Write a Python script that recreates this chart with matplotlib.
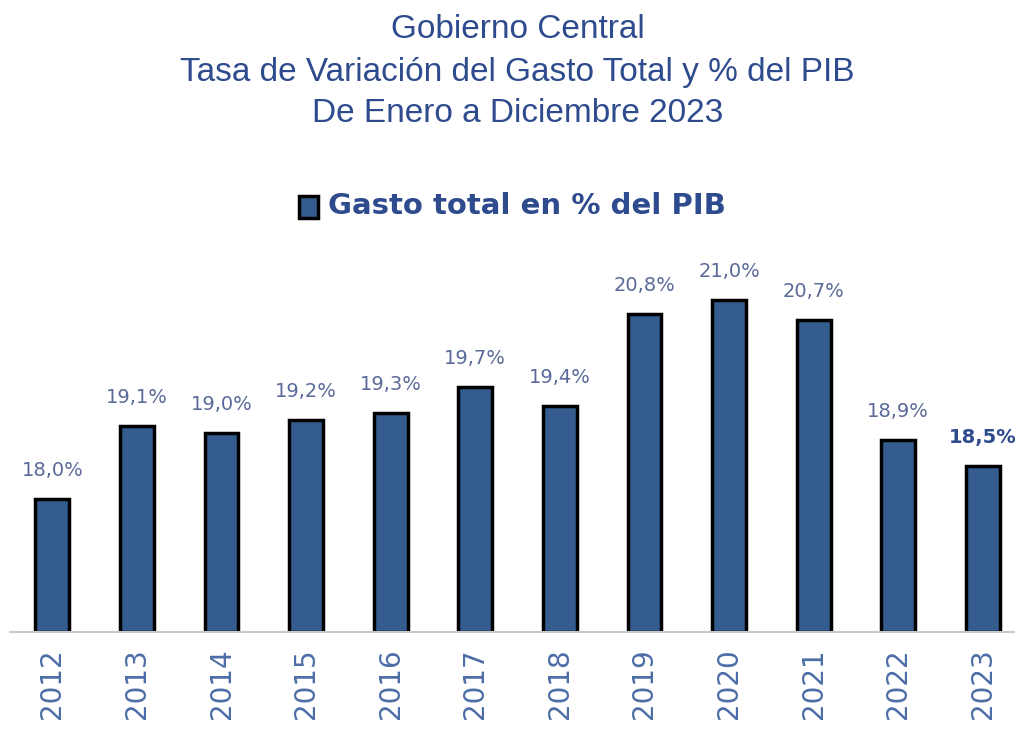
import matplotlib

matplotlib.use("Agg")
import matplotlib.pyplot as plt  # noqa: E402
from matplotlib.patches import Rectangle  # noqa: E402

years = ["2012", "2013", "2014", "2015", "2016", "2017", "2018", "2019", "2020", "2021", "2022", "2023"]
gasto_pib = [18.0, 19.1, 19.0, 19.2, 19.3, 19.7, 19.4, 20.8, 21.0, 20.7, 18.9, 18.5]
labels = ["18,0%", "19,1%", "19,0%", "19,2%", "19,3%", "19,7%", "19,4%", "20,8%", "21,0%", "20,7%", "18,9%", "18,5%"]

TITLE_COLOR = "#2E4B8E"
BAR_COLOR = "#345C8F"
LABEL_COLOR = "#5A6A98"
TICK_COLOR = "#4C6DA6"

fig = plt.figure(figsize=(10.15, 7.36), dpi=100)
ax = fig.add_axes([10 / 1015, 104 / 736, 1015.2 / 1015, 398 / 736])

x = list(range(len(years)))
ax.bar(x, [v - 16 for v in gasto_pib], bottom=16, width=0.4, color=BAR_COLOR,
       edgecolor="black", linewidth=2.5, zorder=2)
ax.set_xlim(-0.5, 11.5)
ax.set_ylim(16, 22)

for i, (v, lab) in enumerate(zip(gasto_pib, labels)):
    last = i == len(years) - 1
    ax.annotate(lab, (i, v), xytext=(0, 19), textcoords="offset pixels",
                ha="center", va="bottom", fontsize=14,
                color=TITLE_COLOR if last else LABEL_COLOR,
                fontweight="bold" if last else "normal", clip_on=False)

ax.set_xticks(x)
ax.set_xticklabels(years, rotation=90, fontsize=20, color=TICK_COLOR, va="top")
ax.tick_params(axis="x", length=0, pad=12)
ax.set_yticks([])
for side in ("top", "right", "left"):
    ax.spines[side].set_visible(False)
ax.spines["bottom"].set_color("#C8C8C8")
ax.spines["bottom"].set_linewidth(1.5)

title_lines = ["Gobierno Central", "Tasa de Variación del Gasto Total y % del PIB", "De Enero a Diciembre 2023"]
for line, ypix in zip(title_lines, [30, 72, 114]):
    fig.text(0.51, 1 - ypix / 736, line, ha="center", va="center", fontsize=24,
             color=TITLE_COLOR, family="Liberation Sans")

# legend entry drawn by hand
fig.patches.append(Rectangle((299 / 1015, 1 - 218 / 736), 19 / 1015, 22 / 736, transform=fig.transFigure,
                             facecolor=BAR_COLOR, edgecolor="black", linewidth=2.5))
fig.text(328 / 1015, 1 - 206 / 736, "Gasto total en % del PIB", ha="left", va="center", fontsize=21,
         fontweight="bold", color=TITLE_COLOR)

fig.savefig("out.png")
